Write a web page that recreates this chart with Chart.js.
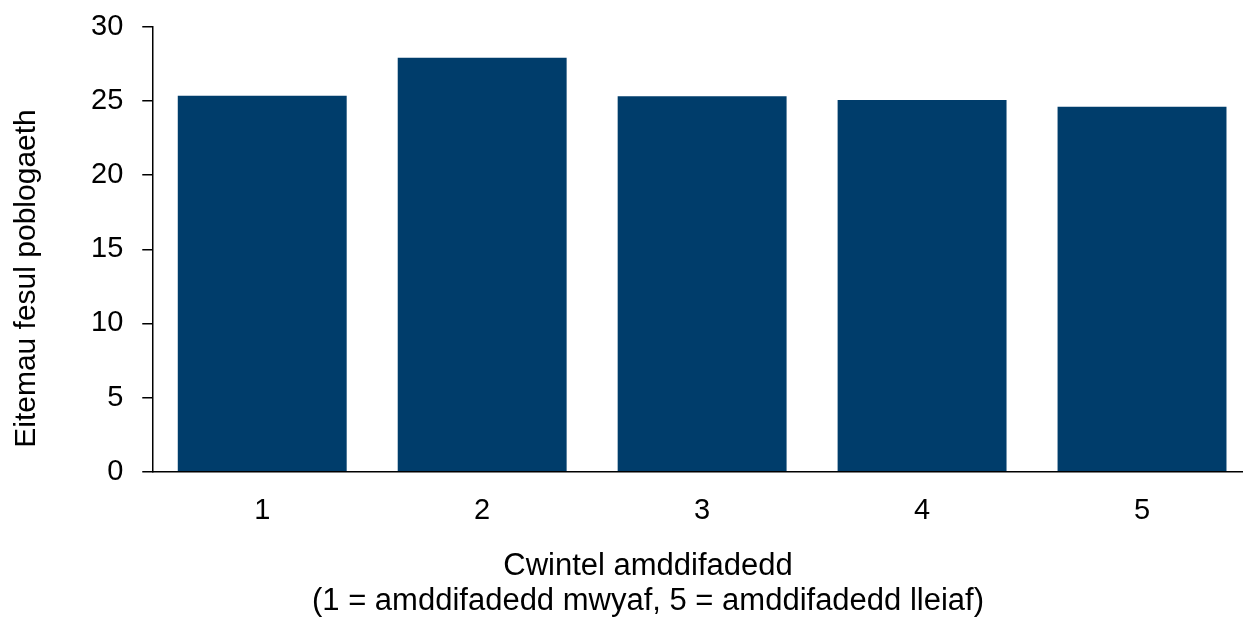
<!DOCTYPE html>
<html lang="cy">
<head>
  <meta charset="UTF-8">
  <title>Eitemau fesul poblogaeth</title>
  <script src="https://cdn.jsdelivr.net/npm/chart.js"></script>
  <style>
    body{
      margin: 0;
      overflow: hidden;
      background: #fff;
      font-family: "Liberation Sans", Arial, sans-serif;
    }
  </style>
</head>
<body>

<canvas id="myChart" width="1296" height="619"></canvas>

<script>
const quintiles = ['1', '2', '3', '4', '5'];
const itemsPerPopulation = [25.36, 27.93, 25.32, 25.08, 24.62];
const yTicks = [0, 5, 10, 15, 20, 25, 30];
const yTitle = 'Eitemau fesul poblogaeth';
const xTitle = ['Cwintel amddifadedd', '(1 = amddifadedd mwyaf, 5 = amddifadedd lleiaf)'];

// y title drawn by hand so it sits where the original has it
const yTitlePlugin = {
  id: 'yTitle',
  afterDraw(chart) {
    const ctx = chart.ctx;
    ctx.save();
    ctx.translate(35, 278.5);
    ctx.rotate(-Math.PI / 2);
    ctx.font = '30px "Liberation Sans", Arial, sans-serif';
    ctx.fillStyle = '#000';
    ctx.textAlign = 'center';
    ctx.textBaseline = 'alphabetic';
    ctx.fillText(yTitle, 0, 0);
    ctx.restore();
  }
};

const ctx = document.getElementById('myChart').getContext('2d');
const myChart = new Chart(ctx, {
  type: 'bar',
  data: {
    labels: quintiles,
    datasets: [{
      label: yTitle,
      data: itemsPerPopulation,
      backgroundColor: '#003d6b',
      barPercentage: 0.768,
      categoryPercentage: 1
    }]
  },
  options: {
    responsive: false,
    animation: false,
    layout: {
      // same left/right so the bottom title centres on the canvas
      padding: { left: 44, right: 44, top: 3, bottom: 0 }
    },
    plugins: {
      legend: { display: false },
      tooltip: { enabled: false },
      title: {
        display: true,
        position: 'bottom',
        text: xTitle,
        color: '#000',
        font: { family: '"Liberation Sans", Arial, sans-serif', size: 31, weight: 'normal', lineHeight: 1.12 },
        padding: { top: 8, bottom: 0 }
      }
    },
    scales: {
      x: {
        grid: { display: false },
        border: { display: true, color: '#000', width: 1.5 },
        ticks: {
          color: '#000',
          padding: 13.5,
          font: { family: '"Liberation Sans", Arial, sans-serif', size: 29 }
        }
      },
      y: {
        min: 0,
        max: 30,
        afterBuildTicks(axis) {
          axis.ticks = yTicks.map(v => ({ value: v }));
        },
        // room on the left for the hand drawn title
        afterFit(axis) {
          axis.width += 28;
        },
        grid: {
          display: true,
          drawOnChartArea: false,
          drawTicks: true,
          tickLength: 10,
          color: '#000',
          lineWidth: 1.5
        },
        border: { display: true, color: '#000', width: 1.5 },
        ticks: {
          color: '#000',
          padding: 19,
          // small lineHeight keeps the top of the plot up near the 30 label
          font: { family: '"Liberation Sans", Arial, sans-serif', size: 29, lineHeight: 0.55 }
        }
      }
    }
  },
  plugins: [yTitlePlugin]
});
</script>
</body>
</html>
